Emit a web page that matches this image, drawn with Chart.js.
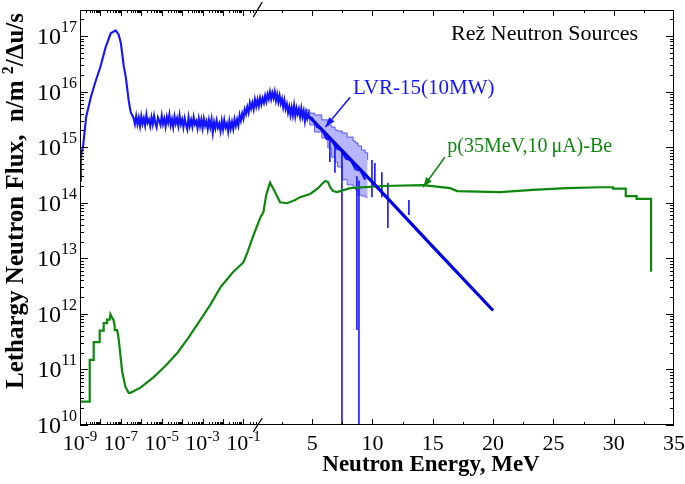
<!DOCTYPE html>
<html>
<head>
<meta charset="utf-8">
<script src="https://cdn.jsdelivr.net/npm/chart.js@4.4.0/dist/chart.umd.min.js"></script>
<style>
  html, body { margin: 0; padding: 0; background: #fff; }
</style>
</head>
<body>
<canvas id="chart" width="685" height="484"></canvas>
<script>
// ---- data (E in MeV, flux in n/m^2/du/s) ----

// LVR-15 reactor: thermal peak
const thermalE = [1e-9, 1.1e-9, 1.2e-9, 1.4e-9, 2e-9, 3.4e-9, 6e-9, 1e-8, 1.8e-8, 3.2e-8, 5.6e-8, 7.9e-8, 1e-7, 1.4e-7, 1.75e-7, 2.4e-7, 3e-7, 3.8e-7];
const thermalF = [2.5e14, 6e14, 8e14, 1e15, 3.5e15, 8e15, 1.6e16, 2.8e16, 6.3e16, 1.12e17, 1.26e17, 1.05e17, 7.4e16, 2.8e16, 1.8e16, 7e15, 4.3e15, 3.6e15];

// LVR-15: noisy epithermal plateau and fast hump (flux in units of 1e15)
const epiE = [
  4.22e-7, 4.87e-7, 5.62e-7, 6.49e-7, 7.5e-7, 8.66e-7,
  1e-6, 1.15e-6, 1.33e-6, 1.54e-6, 1.78e-6, 2.05e-6, 2.37e-6, 2.74e-6, 3.16e-6, 3.65e-6, 4.22e-6, 4.87e-6, 5.62e-6, 6.49e-6, 7.5e-6, 8.66e-6,
  1e-5, 1.15e-5, 1.33e-5, 1.54e-5, 1.78e-5, 2.05e-5, 2.37e-5, 2.74e-5, 3.16e-5, 3.65e-5, 4.22e-5, 4.87e-5, 5.62e-5, 6.49e-5, 7.5e-5, 8.66e-5,
  1e-4, 1.15e-4, 1.33e-4, 1.54e-4, 1.78e-4, 2.05e-4, 2.37e-4, 2.74e-4, 3.16e-4, 3.65e-4, 4.22e-4, 4.87e-4, 5.62e-4, 6.49e-4, 7.5e-4, 8.66e-4,
  1e-3, 1.15e-3, 1.33e-3, 1.54e-3, 1.78e-3, 2.05e-3, 2.37e-3, 2.74e-3, 3.16e-3, 3.65e-3, 4.22e-3, 4.87e-3, 5.62e-3, 6.49e-3, 7.5e-3, 8.66e-3,
  1e-2, 1.15e-2, 1.33e-2, 1.54e-2, 1.78e-2, 2.05e-2, 2.37e-2, 2.74e-2, 3.16e-2, 3.65e-2, 4.22e-2, 4.87e-2, 5.62e-2, 6.49e-2, 7.5e-2, 8.66e-2,
  0.1, 0.115, 0.133, 0.154, 0.178, 0.205, 0.237, 0.274, 0.316, 0.365, 0.422, 0.487, 0.562, 0.649, 0.75, 0.866, 1.0,
  1.1, 1.2, 1.3, 1.4, 1.5, 1.6, 1.7, 1.8, 1.9, 2.0, 2.1, 2.2, 2.3, 2.4, 2.5, 2.6, 2.7, 2.8, 2.9, 3.0,
  3.1, 3.2, 3.3, 3.4, 3.5, 3.6, 3.7, 3.8, 3.9, 4.0, 4.1, 4.2, 4.3, 4.4, 4.5, 4.6, 4.7, 4.8,
  5.0, 5.4, 5.8, 6.2, 6.6, 7.0, 7.4, 7.8, 8.2, 8.6, 9.0, 9.4];
const epiF15 = [
  3.3, 2.6, 3.6, 2.58, 3.36, 2.4,
  3.6, 2.64, 3.3, 2.46, 3.84, 2.76, 3.15, 2.4, 3.45, 2.58, 3.66, 2.7, 2.28, 3.42, 3.0, 2.52,
  3.66, 2.6, 3.25, 2.36, 3.48, 2.77, 3.84, 2.5, 3.19, 2.3, 3.54, 2.66, 3.3, 2.42, 3.72, 2.6,
  3.14, 2.28, 3.3, 2.57, 2.1, 3.4, 2.4, 3.08, 2.35, 3.47, 2.58, 2.94, 2.2, 3.25, 2.37, 3.14,
  2.21, 3.24, 2.43, 2.92, 2.12, 3.07, 2.29, 3.17, 1.84, 2.8, 2.19, 3.0, 2.25, 2.65, 1.95, 2.95,
  2.1, 3.04, 2.25, 2.65, 1.91, 2.94, 2.16, 2.85, 2.14, 3.17, 2.43, 3.14, 2.46, 3.78, 3.0, 4.03,
  3.27, 4.76, 3.96, 5.26, 4.2, 6.25, 4.95, 6.27, 4.84, 7.2, 5.46, 7.18, 5.5, 7.66, 5.9, 7.59, 6.3,
  8.4, 6.7, 8.96, 7.4, 9.86, 7.35, 9.46, 7.65, 9.9, 6.9, 8.96, 6.54, 8.47, 6.16, 7.4, 5.25, 6.96, 4.88, 5.93, 4.21,
  5.34, 3.78, 5.16, 3.78, 5.59, 3.65, 5.02, 3.96, 4.84, 3.53, 4.96, 3.53, 4.48, 2.96, 4.18, 3.26, 3.96, 3.33,
  3.3, 2.3, 2.1, 1.4, 1.35, 0.95, 0.88, 0.62, 0.58, 0.40, 0.38, 0.26];

// LVR-15: uncertainty band in the fast region
const bandE  = [4.4, 4.8, 5.2, 5.8, 6.3, 6.6, 6.9, 7.1, 7.5, 7.9, 8.4, 8.6, 8.8, 9.1, 9.4, 9.6];
const bandHi = [4.7e15, 4.1e15, 3.8e15, 3.1e15, 2.5e15, 2.3e15, 2.04e15, 1.96e15, 1.8e15, 1.52e15, 1.29e15, 1.19e15, 1.05e15, 8.9e14, 7.9e14, 5.9e14];
const bandLo = [3.35e15, 2.5e15, 1.87e15, 1.46e15, 9.7e14, 6.6e14, 5.4e14, 4.4e14, 2.6e14, 2.1e14, 1.9e14, 1.7e14, 1.38e14, 1.32e14, 1.26e14, 1.26e14];

// LVR-15: single-bin spikes (top, bottom)
const spikeE      = [6.47, 6.89, 7.47, 8.71, 8.88, 9.96, 10.2, 10.78, 11.28, 13.02];
const spikeTop    = [1.3e15, 1.1e15, 8.0e14, 3.0e14, 2.5e14, 5.9e14, 5.2e14, 3.55e14, 2.3e14, 1.12e14];
const spikeBottom = [5.4e14, 3.45e14, 1e10, 5.1e11, 1e10, 1.26e14, 2.1e14, 1.26e14, 3.5e13, 6e13];

// LVR-15: fitted fission tail
const fitE = [4.8, 10, 15, 20];
const fitF = [3.47e15, 2.34e14, 1.62e13, 1.15e12];

// p(35MeV,10uA)-Be source
const greenE = [1e-9, 2.99e-9, 2.99e-9, 4.68e-9, 4.68e-9, 9.2e-9, 9.2e-9, 1.44e-8, 1.44e-8, 2.12e-8, 2.12e-8,
  2.84e-8, 3.08e-8, 3.7e-8, 4.3e-8, 5.0e-8, 5.0e-8, 6.6e-8, 7.9e-8, 1.16e-7, 1.66e-7, 2.4e-7, 2.95e-7,
  9.1e-7, 3.9e-6, 1.5e-5, 5.9e-5, 2.0e-4, 7.8e-4, 2.5e-3, 7.4e-3, 0.029, 0.1, 0.158, 0.31, 0.68, 0.95,
  1.2, 1.51, 1.93, 2.34, 2.92, 3.59, 4.0, 4.83, 5.49, 5.83, 6.07, 6.3, 6.49, 6.74, 7.07, 8.15, 10.88, 14.2,
  16.44, 17.02, 20.6, 23.3, 26.1, 28.9, 29.94, 29.94, 31.0, 31.0, 31.9, 31.9, 33.1, 33.1];
const greenF = [2.63e10, 2.63e10, 1.48e11, 1.48e11, 3.1e11, 3.1e11, 5.0e11, 5.0e11, 6.8e11, 6.8e11, 7.9e11,
  7.9e11, 9.8e11, 8.5e11, 7.9e11, 6.0e11, 5.1e11, 5.1e11, 3.4e11, 9.1e10, 4.9e10, 3.8e10, 3.8e10,
  4.7e10, 7.2e10, 1.15e11, 2.0e11, 3.7e11, 7.8e11, 1.5e12, 3.0e12, 5.5e12, 8.5e12, 1.29e13, 2.6e13, 5.5e13, 6.8e13,
  1.4e14, 2.3e14, 1.55e14, 1.02e14, 9.8e13, 1.12e14, 1.26e14, 1.44e14, 1.83e14, 2.2e14, 2.45e14, 2.4e14, 1.9e14, 1.62e14, 1.55e14, 1.83e14, 2.0e14, 2.08e14,
  1.83e14, 1.62e14, 1.55e14, 1.7e14, 1.83e14, 1.9e14, 1.9e14, 1.8e14, 1.8e14, 1.32e14, 1.32e14, 1.17e14, 1.17e14, 5.7e12];

// tick labels
const yLabelExp = [10, 11, 12, 13, 14, 15, 16, 17];
const xLogLabelExp = [-9, -7, -5, -3, -1];
const xLinLabels = [5, 10, 15, 20, 25, 30, 35];

// ---- broken energy axis: log up to 1 MeV, linear above ----
const LIN = 12.06 / 20.43;   // axis units per MeV in the linear part
const toU = E => E <= 1 ? Math.log10(E) + 9 : 9 + (E - 1) * LIN;
const pts = (xs, ys) => xs.map((e, i) => ({ x: toU(e), y: ys[i] }));

const blueE = thermalE.concat(epiE);
const blueF = thermalF.concat(epiF15.map(v => v * 1e15));

const spikePts = [];
spikeE.forEach((e, i) => {
  spikePts.push({ x: toU(e), y: spikeTop[i] }, { x: toU(e), y: spikeBottom[i] }, { x: toU(e), y: null });
});

const BLUE = '#1414ff';
const GREEN = '#0f870f';
const BAND_FILL = 'rgba(110,110,255,0.5)';
const BAND_EDGE = 'rgba(40,40,255,0.75)';
const SERIF = '"Liberation Serif", "Times New Roman", serif';

function rich(ctx, base, sup, x, y, align, fb, fs, raise) {
  ctx.font = fb; const wb = ctx.measureText(base).width;
  ctx.font = fs; const ws = ctx.measureText(sup).width;
  const x0 = align === 'right' ? x - wb - ws : align === 'center' ? x - (wb + ws) / 2 : x;
  ctx.textAlign = 'left';
  ctx.font = fb; ctx.fillText(base, x0, y);
  ctx.font = fs; ctx.fillText(sup, x0 + wb, y - raise);
}

function arrow(ctx, x1, y1, x2, y2, color) {
  const ang = Math.atan2(y2 - y1, x2 - x1);
  ctx.strokeStyle = color; ctx.fillStyle = color; ctx.lineWidth = 1.5;
  ctx.beginPath(); ctx.moveTo(x1, y1); ctx.lineTo(x2, y2); ctx.stroke();
  const L = 10, W = 3.5;
  ctx.beginPath();
  ctx.moveTo(x2, y2);
  ctx.lineTo(x2 - L * Math.cos(ang) + W * Math.sin(ang), y2 - L * Math.sin(ang) - W * Math.cos(ang));
  ctx.lineTo(x2 - L * Math.cos(ang) - W * Math.sin(ang), y2 - L * Math.sin(ang) + W * Math.cos(ang));
  ctx.closePath(); ctx.fill();
}

const frame = {
  id: 'frame',
  afterDraw(chart) {
    const { ctx, chartArea: a, scales: { x, y } } = chart;
    const X = E => x.getPixelForValue(toU(E));
    const Y = v => y.getPixelForValue(v);
    ctx.save();

    // box
    ctx.strokeStyle = '#000'; ctx.lineWidth = 1;
    ctx.strokeRect(a.left + 0.5, a.top + 0.5, a.right - a.left - 1, a.bottom - a.top - 1);

    // inward ticks on all four sides
    ctx.beginPath();
    const ty = (v, len) => {
      const p = Math.round(Y(v)) + 0.5;
      ctx.moveTo(a.left, p); ctx.lineTo(a.left + len, p);
      ctx.moveTo(a.right, p); ctx.lineTo(a.right - len, p);
    };
    const tx = (E, len) => {
      const p = Math.round(X(E)) + 0.5;
      ctx.moveTo(p, a.bottom); ctx.lineTo(p, a.bottom - len);
      ctx.moveTo(p, a.top); ctx.lineTo(p, a.top + len);
    };
    for (let k = 10; k <= 17; k++) {
      ty(Math.pow(10, k), 8);
      for (let m = 2; m <= 9; m++) if (m * Math.pow(10, k) <= y.max) ty(m * Math.pow(10, k), 4);
    }
    for (let k = -9; k <= -1; k++) {
      tx(Math.pow(10, k), 6);
      for (let m = 2; m <= 9; m++) if (m * Math.pow(10, k) < 0.45) tx(m * Math.pow(10, k), 3);
    }
    for (let E = 2.5; E < 35; E += 2.5) tx(E, E % 5 === 0 ? 6 : 3);
    ctx.stroke();

    // axis break marks
    const bx = X(0.5);
    ctx.beginPath();
    ctx.moveTo(bx - 4.5, a.bottom + 7); ctx.lineTo(bx + 4.5, a.bottom - 7);
    ctx.moveTo(bx - 4.5, a.top + 7); ctx.lineTo(bx + 4.5, a.top - 8);
    ctx.lineWidth = 1.3; ctx.stroke();

    // tick labels
    ctx.fillStyle = '#000'; ctx.textBaseline = 'alphabetic';
    yLabelExp.forEach(k => rich(ctx, '10', String(k), a.left - 3, Y(Math.pow(10, k)) + 8, 'right',
      '24px ' + SERIF, '16px ' + SERIF, 12));
    xLogLabelExp.forEach(k => rich(ctx, '10', String(k), X(Math.pow(10, k)), a.bottom + 25, 'center',
      '22px ' + SERIF, '15px ' + SERIF, 9));
    ctx.font = '22px ' + SERIF; ctx.textAlign = 'center';
    xLinLabels.forEach(E => ctx.fillText(String(E), X(E), a.bottom + 25));

    // axis titles
    ctx.font = 'bold 23px ' + SERIF; ctx.textAlign = 'center';
    ctx.fillText('Neutron Energy, MeV', 431, 471);
    ctx.save();
    ctx.translate(23, 201);
    ctx.rotate(-Math.PI / 2);
    const p1 = 'Lethargy Neutron Flux,  n/m ', p2 = '2', p3 = '/\u0394u/s';
    ctx.font = 'bold 25px ' + SERIF; const w1 = ctx.measureText(p1).width, w3 = ctx.measureText(p3).width;
    ctx.font = 'bold 16px ' + SERIF; const w2 = ctx.measureText(p2).width;
    const sx = -(w1 + w2 + w3) / 2;
    ctx.textAlign = 'left';
    ctx.font = 'bold 25px ' + SERIF; ctx.fillText(p1, sx, 0);
    ctx.font = 'bold 16px ' + SERIF; ctx.fillText(p2, sx + w1, -10);
    ctx.font = 'bold 25px ' + SERIF; ctx.fillText(p3, sx + w1 + w2, 0);
    ctx.restore();

    // annotations
    ctx.textAlign = 'right'; ctx.font = '22px ' + SERIF; ctx.fillStyle = '#000';
    ctx.fillText('Re\u017e Neutron Sources', a.right - 36, a.top + 30);
    ctx.textAlign = 'left';
    ctx.fillStyle = BLUE; ctx.font = '21px ' + SERIF;
    ctx.fillText('LVR-15(10MW)', X(8.38), Y(9.1e15));
    ctx.fillStyle = GREEN; ctx.font = '20px ' + SERIF;
    ctx.fillText('p(35MeV,10\u2009\u03bcA)-Be', X(16.2), Y(8.1e14));
    arrow(ctx, X(8.15), Y(7.9e15), X(6.1), Y(2.3e15), BLUE);
    arrow(ctx, X(16.0), Y(6.6e14), X(14.2), Y(1.9e14), GREEN);

    ctx.restore();
  }
};

new Chart(document.getElementById('chart'), {
  type: 'line',
  data: {
    datasets: [
      { data: pts(fitE, fitF), borderColor: '#0000e6', borderWidth: 3.2 },
      { data: pts(greenE, greenF), borderColor: GREEN, borderWidth: 2.2 },
      { data: spikePts, borderColor: BLUE, borderWidth: 1.6, spanGaps: false },
      { data: pts(blueE, blueF), borderColor: BLUE, borderWidth: 2.1 },
      { data: pts(bandE, bandHi), borderColor: BAND_EDGE, borderWidth: 1, stepped: true,
        fill: '+1', backgroundColor: BAND_FILL },
      { data: pts(bandE, bandLo), borderColor: BAND_EDGE, borderWidth: 1, stepped: true }
    ]
  },
  options: {
    responsive: false,
    animation: false,
    devicePixelRatio: 1,
    layout: { padding: { top: 10, right: 11, left: 0, bottom: 0 } },
    plugins: { legend: { display: false }, tooltip: { enabled: false } },
    elements: { point: { radius: 0 }, line: { tension: 0 } },
    scales: {
      x: {
        type: 'linear', min: 0, max: toU(35),
        grid: { display: false }, border: { display: false }, ticks: { display: false },
        afterFit: s => { s.height = 59; }
      },
      y: {
        type: 'logarithmic', min: 1e10, max: 2.94e17,
        grid: { display: false }, border: { display: false }, ticks: { display: false },
        afterFit: s => { s.width = 80; }
      }
    }
  },
  plugins: [frame]
});
</script>
</body>
</html>
